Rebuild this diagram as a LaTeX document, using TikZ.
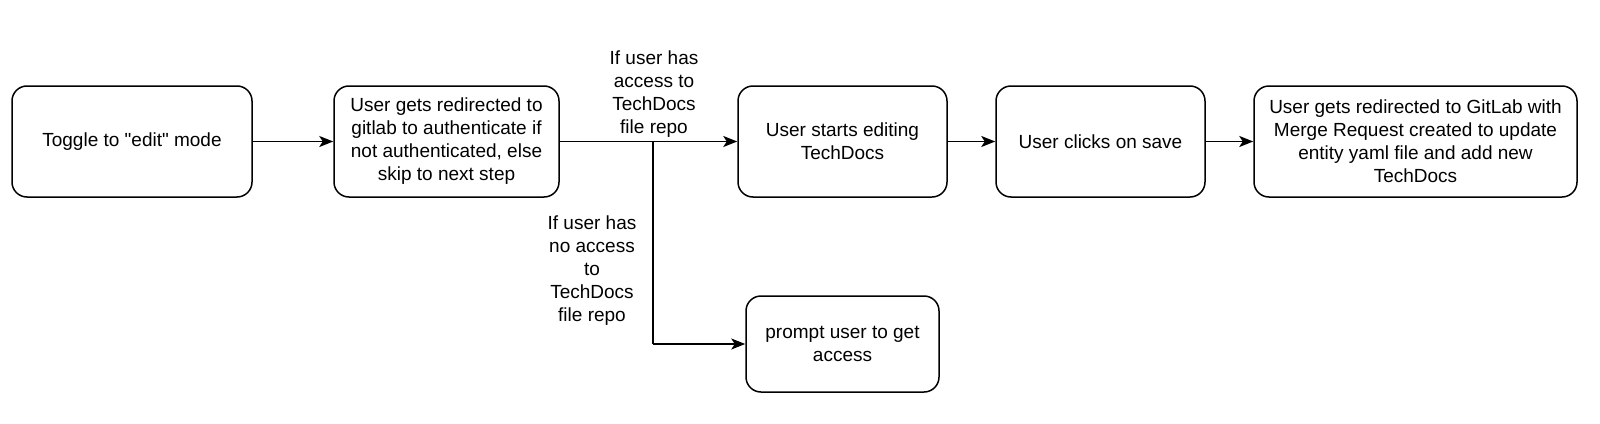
\documentclass[tikz,border=0pt]{standalone}
\usepackage{fontspec}
\newfontfamily\lib{Liberation Sans}
\usetikzlibrary{arrows.meta}
\begin{document}
\begin{tikzpicture}[x=1pt,y=-1pt,
  box/.style={draw, line width=1.5pt, rounded corners=15pt, align=center, inner sep=0pt},
  lbl/.style={align=center, inner sep=0pt},
  conn/.style={line width=1.5pt, -{Stealth[length=14pt,width=11pt,inset=3.5pt]}},
  every node/.style={font=\lib\fontsize{19}{23}\selectfont}]
\useasboundingbox (0,0) rectangle (1600,423);
\node[box, minimum width=240pt, minimum height=111pt] (b1) at (132,141.5) {Toggle to "edit" mode};
\node[box, minimum width=225pt, minimum height=111pt] (b2) at (446.5,141.5) {User gets redirected to\\gitlab to authenticate if\\not authenticated, else\\skip to next step};
\node[box, minimum width=209pt, minimum height=111pt] (b3) at (842.5,141.5) {User starts editing\\TechDocs};
\node[box, minimum width=209pt, minimum height=111pt] (b4) at (1100.5,141.5) {User clicks on save};
\node[box, minimum width=323pt, minimum height=111pt] (b5) at (1415.5,141.5) {User gets redirected to GitLab with\\Merge Request created to update\\entity yaml file and add new\\TechDocs};
\node[box, minimum width=193pt, minimum height=96pt] (b6) at (842.5,344) {prompt user to get\\access};
\coordinate (br) at (653,141.5);
\coordinate (bend) at (653,344);
\draw[conn] (b1) -- (b2);
\draw[conn] (b2) -- (b3);
\draw[conn] (b3) -- (b4);
\draw[conn] (b4) -- (b5);
\draw[line width=1.5pt] (br) -- (bend);
\draw[conn] (bend) -- (b6);
\node[lbl] (l1) at (654,94) {If user has\\access to\\TechDocs\\file repo};
\node[lbl] (l2) at (592,271) {If user has\\no access\\to\\TechDocs\\file repo};
\end{tikzpicture}
\end{document}
